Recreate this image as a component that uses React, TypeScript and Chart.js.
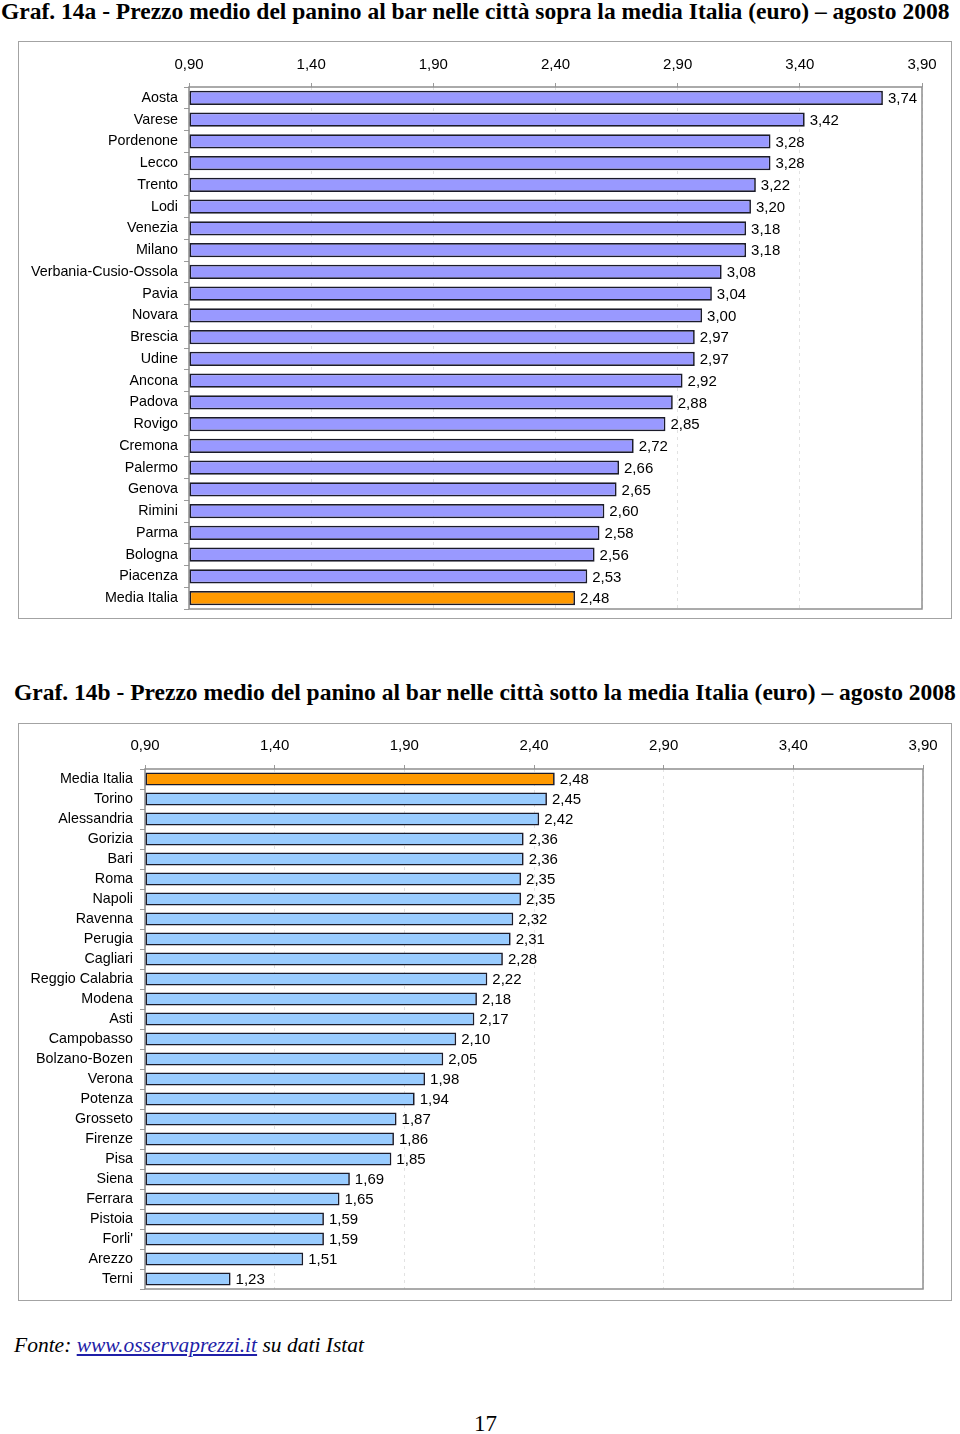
import React, { useEffect, useRef } from "react";
import { Chart, registerables } from "chart.js";

Chart.register(...registerables);

// ---------- DATA ----------
const TITLE_A =
  "Graf. 14a - Prezzo medio del panino al bar nelle città sopra la media Italia (euro) – agosto 2008";
const TITLE_B =
  "Graf. 14b - Prezzo medio del panino al bar nelle città sotto la media Italia (euro) – agosto 2008";

const CITIES_A = [
  "Aosta", "Varese", "Pordenone", "Lecco", "Trento", "Lodi", "Venezia", "Milano",
  "Verbania-Cusio-Ossola", "Pavia", "Novara", "Brescia", "Udine", "Ancona", "Padova",
  "Rovigo", "Cremona", "Palermo", "Genova", "Rimini", "Parma", "Bologna", "Piacenza",
  "Media Italia",
];
const PRICES_A = [
  3.74, 3.42, 3.28, 3.28, 3.22, 3.2, 3.18, 3.18, 3.08, 3.04, 3.0, 2.97, 2.97, 2.92,
  2.88, 2.85, 2.72, 2.66, 2.65, 2.6, 2.58, 2.56, 2.53, 2.48,
];

const CITIES_B = [
  "Media Italia", "Torino", "Alessandria", "Gorizia", "Bari", "Roma", "Napoli", "Ravenna",
  "Perugia", "Cagliari", "Reggio Calabria", "Modena", "Asti", "Campobasso", "Bolzano-Bozen",
  "Verona", "Potenza", "Grosseto", "Firenze", "Pisa", "Siena", "Ferrara", "Pistoia",
  "Forli'", "Arezzo", "Terni",
];
const PRICES_B = [
  2.48, 2.45, 2.42, 2.36, 2.36, 2.35, 2.35, 2.32, 2.31, 2.28, 2.22, 2.18, 2.17, 2.1,
  2.05, 1.98, 1.94, 1.87, 1.86, 1.85, 1.69, 1.65, 1.59, 1.59, 1.51, 1.23,
];

const X_TICKS = [0.9, 1.4, 1.9, 2.4, 2.9, 3.4, 3.9];
const AVERAGE_LABEL = "Media Italia";

// ---------- STYLE ----------
const FONT = "'Liberation Sans', Arial, sans-serif";
const SERIF = "'Liberation Serif', 'Times New Roman', serif";
const ORANGE = "#FF9900";
const fmt = (v: number) => v.toFixed(2).replace(".", ",");

const valueLabels = {
  id: "valueLabels",
  afterDatasetsDraw(chart: any) {
    const ctx = chart.ctx;
    const meta = chart.getDatasetMeta(0);
    const data = chart.data.datasets[0].data as number[];
    ctx.save();
    ctx.font = `15px ${FONT}`;
    ctx.fillStyle = "#000";
    ctx.textAlign = "left";
    ctx.textBaseline = "middle";
    meta.data.forEach((el: any, i: number) => {
      ctx.fillText(fmt(data[i]), el.x + 5, el.y + 1);
    });
    ctx.restore();
  },
};

const plotBorder = {
  id: "plotBorder",
  beforeDatasetsDraw(chart: any) {
    const { ctx, chartArea } = chart;
    ctx.save();
    ctx.strokeStyle = "#8f8f8f";
    ctx.lineWidth = 1.5;
    ctx.strokeRect(chartArea.left, chartArea.top, chartArea.right - chartArea.left, chartArea.bottom - chartArea.top);
    ctx.restore();
  },
};

type BarProps = {
  labels: string[];
  values: number[];
  barColor: string;
  width: number;
  height: number;
  yWidth: number;
  xHeight: number;
  padRight: number;
  padBottom: number;
  xLabelPad: number;
  yLabelPad: number;
};

function BarChart(p: BarProps) {
  const ref = useRef<HTMLCanvasElement>(null);
  useEffect(() => {
    if (!ref.current) return;
    const colors = p.labels.map((l) => (l === AVERAGE_LABEL ? ORANGE : p.barColor));
    const chart = new Chart(ref.current, {
      type: "bar",
      data: {
        labels: p.labels,
        datasets: [
          {
            data: p.values,
            base: X_TICKS[0],
            backgroundColor: colors,
            borderColor: "#1b1b2a",
            borderWidth: 1.7,
            borderSkipped: false,
            barPercentage: 0.66,
            categoryPercentage: 1,
          } as any,
        ],
      },
      options: {
        indexAxis: "y",
        responsive: false,
        animation: false,
        layout: { padding: { left: 0, top: 0, right: p.padRight, bottom: p.padBottom } },
        plugins: { legend: { display: false }, tooltip: { enabled: false } },
        scales: {
          x: {
            position: "top",
            min: X_TICKS[0],
            max: X_TICKS[X_TICKS.length - 1],
            afterBuildTicks: (s: any) => {
              s.ticks = X_TICKS.map((v) => ({ value: v }));
            },
            afterFit: (s: any) => {
              s.height = p.xHeight;
            },
            border: { display: false, dash: [3, 4] },
            grid: {
              color: "#e2e2e2",
              tickColor: "#9a9a9a",
              tickBorderDash: [0, 0],
              tickLength: 4,
              lineWidth: 1,
            },
            ticks: {
              color: "#000",
              font: { family: FONT, size: 15 },
              padding: p.xLabelPad,
              maxRotation: 0,
              callback: (v: any) => fmt(Number(v)),
            },
          },
          y: {
            afterFit: (s: any) => {
              s.width = p.yWidth;
              s.paddingTop = 0;
              s.paddingBottom = 0;
            },
            border: { display: false },
            grid: {
              drawOnChartArea: false,
              drawTicks: true,
              tickLength: 5,
              color: "#9a9a9a",
              offset: true,
            },
            ticks: {
              color: "#000",
              font: { family: FONT, size: 14.3 },
              padding: p.yLabelPad,
              autoSkip: false,
            },
          },
        },
      },
      plugins: [plotBorder, valueLabels],
    });
    return () => chart.destroy();
  }, []);
  return <canvas ref={ref} width={p.width} height={p.height} style={{ width: p.width, height: p.height, display: "block" }} />;
}

const boxStyle = (left: number, top: number, w: number, h: number): React.CSSProperties => ({
  position: "absolute",
  left,
  top,
  width: w,
  height: h,
  border: "1.5px solid #a3a3a3",
  boxSizing: "border-box",
  background: "#fff",
});

const titleStyle = (left: number, top: number): React.CSSProperties => ({
  position: "absolute",
  left,
  top,
  margin: 0,
  fontFamily: SERIF,
  fontWeight: "bold",
  fontSize: 23.5,
  lineHeight: "24px",
  whiteSpace: "nowrap",
  color: "#000",
});

export default function App() {
  return (
    <div style={{ position: "absolute", left: 0, top: 0, width: 960, height: 1434, background: "#fff", overflow: "hidden" }}>
      <div style={titleStyle(1, -1)}>{TITLE_A}</div>
      <div style={boxStyle(18, 41, 934, 578)} />
      <div style={{ position: "absolute", left: 18, top: 41 }}>
        <BarChart
          labels={CITIES_A}
          values={PRICES_A}
          barColor="#9999FF"
          width={934}
          height={578}
          yWidth={171}
          xHeight={46}
          padRight={30}
          padBottom={10}
          xLabelPad={9}
          yLabelPad={6}
        />
      </div>

      <div style={titleStyle(14, 680)}>{TITLE_B}</div>
      <div style={boxStyle(18, 723, 934, 578)} />
      <div style={{ position: "absolute", left: 18, top: 723 }}>
        <BarChart
          labels={CITIES_B}
          values={PRICES_B}
          barColor="#99CCFF"
          width={934}
          height={578}
          yWidth={127}
          xHeight={46}
          padRight={29}
          padBottom={12}
          xLabelPad={10}
          yLabelPad={7}
        />
      </div>

      <div
        style={{
          position: "absolute",
          left: 14,
          top: 1333,
          fontFamily: SERIF,
          fontStyle: "italic",
          fontSize: 21.5,
          lineHeight: "24px",
          whiteSpace: "nowrap",
          color: "#000",
        }}
      >
        Fonte: <span style={{ color: "#1f1fa8", textDecoration: "underline" }}>www.osservaprezzi.it</span> su dati Istat
      </div>

      <div
        style={{
          position: "absolute",
          left: 474,
          top: 1411,
          fontFamily: SERIF,
          fontSize: 23,
          lineHeight: "26px",
          color: "#000",
        }}
      >
        17
      </div>
    </div>
  );
}
